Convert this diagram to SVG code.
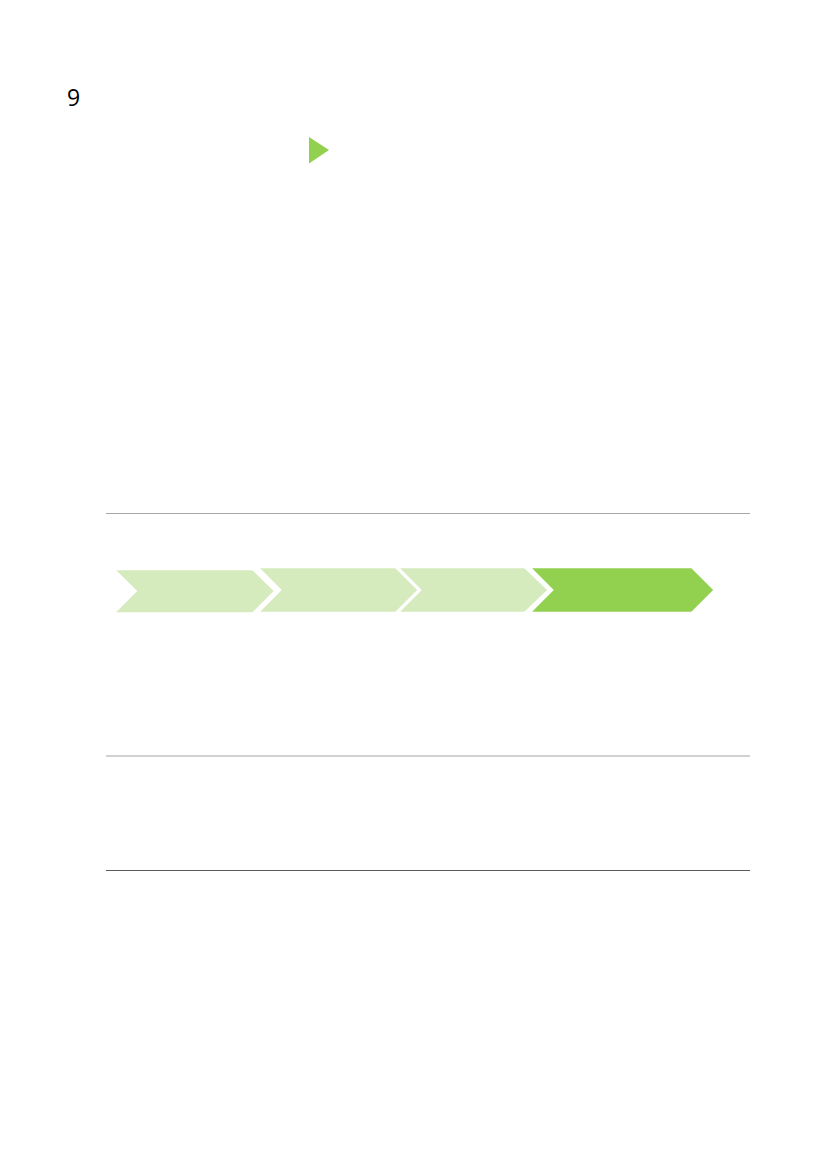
<svg xmlns="http://www.w3.org/2000/svg" width="827" height="1169" viewBox="0 0 827 1169">
<style>
.light{fill:#d5ebbd;stroke:#ffffff;stroke-width:2.5;stroke-linejoin:miter}
.dark{fill:#92d050;stroke:#ffffff;stroke-width:2.5;stroke-linejoin:miter}
.rule{stroke:#a6a6a6;stroke-width:1.2}
</style>
<rect width="827" height="1169" fill="#ffffff"/>
<text x="67" y="106" font-family="'Open Sans', 'DejaVu Sans', sans-serif" font-size="23" fill="#000000">9</text>
<g id="marker-triangle"><polygon points="309,137 329,150 309,163.5" fill="#92d050"/></g>
<g id="rules">
<line class="rule" x1="106" y1="513.5" x2="750" y2="513.5"/>
<line class="rule" x1="106" y1="756" x2="750" y2="756"/>
<line x1="106" y1="870.5" x2="750" y2="870.5" stroke="#595959" stroke-width="1.2"/>
</g>
<g id="step1"><polygon class="light" points="113,569 253,569 275.5,591 253,613.5 113,613.5 135.5,591"/></g>
<g id="step2"><polygon class="light" points="257,567 396,567 419,590 396,613 257,613 280,590"/></g>
<g id="step3"><polygon class="light" points="397,567 525,567 549,590 525,613 397,613 420,590"/></g>
<g id="step4"><polygon class="dark" points="529,567 692,567 715,590 692,613 529,613 552,590"/></g>
<g id="connectors"></g>
</svg>
